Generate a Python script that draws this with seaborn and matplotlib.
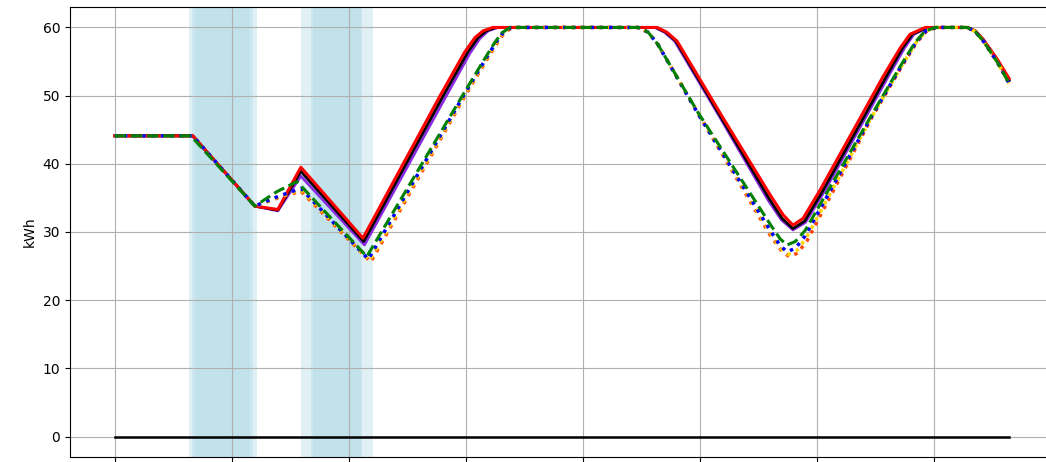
import matplotlib
matplotlib.use("Agg")
import matplotlib.pyplot as plt
import seaborn as sns
import pandas as pd

# Battery state of charge (kWh) per strategy, hours since midnight
t_red = [0, 2.00, 3.59, 4.18, 4.77, 6.36, 8.33, 8.97, 9.23, 9.44, 9.69, 13.90, 14.15, 14.41, 15.56, 16.79,
         17.13, 17.38, 17.64, 18.08, 19.13, 19.69, 20.13, 20.38, 20.77, 21.85, 22.05, 22.26, 22.62, 22.92]
v_red = [44.1, 44.1, 33.8, 33.3, 39.5, 29.1, 49.9, 56.4, 58.5, 59.5, 60.0, 60.0, 59.3, 58.0, 47.0, 35.5,
         32.5, 31.0, 32.0, 36.2, 47.0, 52.8, 57.0, 59.0, 60.0, 60.0, 59.5, 58.2, 55.3, 52.5]

t_black = [0, 2.00, 3.59, 4.18, 4.77, 6.38, 8.41, 9.05, 9.31, 9.52, 9.77, 13.87, 14.12, 14.38, 15.52, 16.76,
           17.10, 17.38, 17.68, 18.14, 19.21, 19.77, 20.19, 20.44, 20.82, 21.85, 22.05, 22.26, 22.62, 22.92]
v_black = [44.1, 44.1, 33.8, 33.2, 38.9, 28.6, 49.9, 56.4, 58.5, 59.5, 60.0, 60.0, 59.3, 58.0, 47.0, 35.0,
           32.0, 30.5, 31.6, 36.0, 47.0, 52.8, 57.0, 59.0, 60.0, 60.0, 59.5, 58.2, 55.2, 52.3]

t_purple = [0, 2.00, 3.59, 4.18, 4.77, 6.40, 8.46, 9.10, 9.36, 9.57, 9.82, 13.84, 14.09, 14.35, 15.49, 16.73,
            17.08, 17.38, 17.70, 18.18, 19.26, 19.82, 20.24, 20.48, 20.85, 21.85, 22.05, 22.26, 22.62, 22.92]
v_purple = [44.1, 44.1, 33.8, 33.1, 38.2, 28.1, 49.6, 56.2, 58.4, 59.5, 60.0, 60.0, 59.3, 58.0, 47.0, 34.8,
            31.8, 30.3, 31.4, 35.9, 47.0, 52.8, 57.0, 59.0, 60.0, 60.0, 59.5, 58.2, 55.2, 52.2]

t_orange = [0, 2.00, 3.59, 4.18, 4.77, 6.56, 8.97, 9.56, 9.81, 9.98, 10.19, 13.41, 13.67, 13.92, 14.97, 16.79,
            17.08, 17.28, 17.50, 17.75, 19.40, 20.17, 20.55, 20.81, 21.06, 21.85, 22.05, 22.26, 22.62, 22.92]
v_orange = [44.1, 44.1, 33.8, 35.0, 36.0, 25.6, 49.9, 55.5, 57.8, 59.2, 60.0, 60.0, 59.3, 57.5, 47.2, 29.6,
            27.3, 26.4, 26.9, 28.8, 46.8, 54.3, 57.8, 59.5, 60.0, 60.0, 59.4, 58.0, 54.9, 51.8]

t_gold = [0, 2.00, 3.59, 4.18, 4.77, 6.53, 8.95, 9.54, 9.79, 9.96, 10.17, 13.41, 13.67, 13.92, 14.96, 16.79,
          17.06, 17.25, 17.47, 17.72, 19.39, 20.16, 20.54, 20.80, 21.05, 21.85, 22.05, 22.26, 22.62, 22.92]
v_gold = [44.1, 44.1, 33.8, 35.1, 36.2, 25.8, 49.9, 55.5, 57.8, 59.2, 60.0, 60.0, 59.3, 57.5, 47.3, 30.0,
          27.6, 26.7, 27.2, 29.1, 46.8, 54.3, 57.8, 59.5, 60.0, 60.0, 59.4, 58.0, 54.9, 51.8]

t_blue = [0, 2.00, 3.59, 4.18, 4.77, 6.50, 8.93, 9.52, 9.77, 9.95, 10.16, 13.41, 13.67, 13.92, 14.95, 16.79,
          17.05, 17.23, 17.44, 17.69, 19.38, 20.15, 20.53, 20.79, 21.05, 21.85, 22.05, 22.26, 22.62, 22.92]
v_blue = [44.1, 44.1, 33.8, 35.2, 36.4, 26.0, 49.9, 55.5, 57.8, 59.2, 60.0, 60.0, 59.3, 57.5, 47.3, 30.3,
          28.0, 27.1, 27.6, 29.4, 46.8, 54.3, 57.8, 59.5, 60.0, 60.0, 59.4, 58.0, 54.9, 51.8]

t_green = [0, 1.95, 3.59, 4.15, 4.67, 6.46, 8.90, 9.49, 9.74, 9.92, 10.13, 13.41, 13.67, 13.92, 14.95, 16.79,
           17.05, 17.23, 17.44, 17.69, 19.36, 20.13, 20.51, 20.77, 21.03, 21.85, 22.05, 22.26, 22.62, 22.92]
v_green = [44.1, 44.1, 33.8, 35.9, 37.4, 26.4, 49.9, 55.5, 57.8, 59.2, 60.0, 60.0, 59.3, 57.5, 47.5, 31.2,
           29.0, 28.1, 28.6, 30.2, 46.8, 54.3, 57.8, 59.5, 60.0, 60.0, 59.4, 58.0, 54.9, 51.8]

# Grid export baseline
t_zero = [0, 22.92]
v_zero = [0, 0]

# Highlighted windows (start, end) in hours, layered for a soft edge
spans_1 = [(1.90, 3.64), (1.97, 3.55), (2.05, 3.47)]
spans_2 = [(4.77, 6.61), (5.03, 6.33), (5.08, 6.31)]

x_ticks = [0, 3, 6, 9, 12, 15, 18, 21, 24]
x_tick_labels = ["00:00", "03:00", "06:00", "09:00", "12:00", "15:00", "18:00", "21:00", "00:00"]

series = [
    (t_purple, v_purple, "blueviolet", "-", 2.0),
    (t_black, v_black, "black", "-", 2.0),
    (t_red, v_red, "red", "-", 2.2),
    (t_orange, v_orange, "orangered", ":", 2.5),
    (t_gold, v_gold, "gold", ":", 2.5),
    (t_blue, v_blue, "blue", ":", 2.5),
    (t_green, v_green, "green", "--", 2.2),
]

fig = plt.figure(figsize=(10.46, 4.62), dpi=100)
ax = fig.add_axes([70 / 1046, 5 / 462, 984 / 1046, 450 / 462])

for a, b in spans_1 + spans_2:
    ax.axvspan(a, b, color="lightblue", alpha=0.37, lw=0)

sns.lineplot(x=t_zero, y=v_zero, color="black", lw=1.8, ax=ax, sort=False)
for t, v, c, ls, lw in series:
    df = pd.DataFrame({"t": t, "kWh": v})
    sns.lineplot(data=df, x="t", y="kWh", color=c, linestyle=ls, lw=lw, ax=ax, sort=False)

# Hour labels sit below the bottom spine
ax.set_xticks(x_ticks)
ax.set_xticklabels(x_tick_labels)
ax.tick_params(axis="x", pad=6)
ax.set_xlim(-1.146, 24.07)
ax.set_ylim(-3, 63)
ax.set_yticks([0, 10, 20, 30, 40, 50, 60])
ax.set_xlabel("")
ax.set_ylabel("kWh")
ax.grid(True, color="#b0b0b0", lw=0.8)

fig.savefig("out.png", dpi=100)
